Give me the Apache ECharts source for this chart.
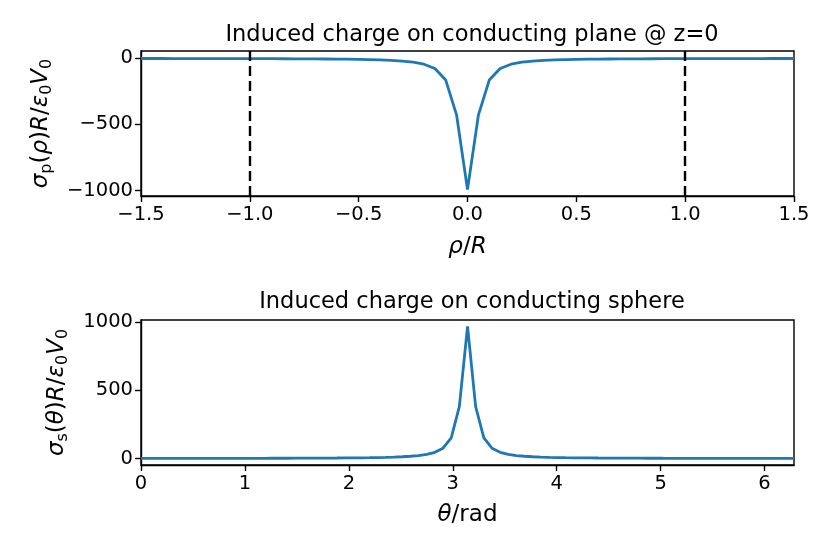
<!DOCTYPE html>
<html>
<head>
<meta charset="utf-8">
<script src="https://cdn.jsdelivr.net/npm/echarts@6/dist/echarts.min.js"></script>
<style>html,body{margin:0;padding:0;background:#fff;}#c{width:830px;height:554px;}</style>
</head>
<body>
<div id="c"></div>
<script>
// ---- data ----
const rhoValues = [-1.5,-1.45,-1.4,-1.35,-1.3,-1.25,-1.2,-1.15,-1.1,-1.05,-1.0,-0.95,-0.9,-0.85,-0.8,-0.75,-0.7,-0.65,-0.6,-0.55,-0.5,-0.45,-0.4,-0.35,-0.3,-0.25,-0.2,-0.15,-0.1,-0.05,0,0.05,0.1,0.15,0.2,0.25,0.3,0.35,0.4,0.45,0.5,0.55,0.6,0.65,0.7,0.75,0.8,0.85,0.9,0.95,1.0,1.05,1.1,1.15,1.2,1.25,1.3,1.35,1.4,1.45,1.5];
const sigmaPlane = [-0.85,-0.9,-0.95,-1.0,-1.1,-1.2,-1.3,-1.4,-1.55,-1.7,-1.9,-2.1,-2.3,-2.6,-2.9,-3.3,-3.8,-4.5,-5.2,-6.2,-7.5,-9,-11.5,-15,-20,-29,-44,-76,-164,-430,-994,-430,-164,-76,-44,-29,-20,-15,-11.5,-9,-7.5,-6.2,-5.2,-4.5,-3.8,-3.3,-2.9,-2.6,-2.3,-2.1,-1.9,-1.7,-1.55,-1.4,-1.3,-1.2,-1.1,-1.0,-0.95,-0.9,-0.85];
const planeVLines = [-1.0, 1.0];
const thetaValues = [0,0.079,0.157,0.236,0.314,0.393,0.471,0.550,0.628,0.707,0.785,0.864,0.942,1.021,1.100,1.178,1.257,1.335,1.414,1.492,1.571,1.649,1.728,1.806,1.885,1.963,2.042,2.121,2.199,2.278,2.356,2.435,2.513,2.592,2.670,2.749,2.827,2.906,2.985,3.063,3.142,3.220,3.299,3.377,3.456,3.534,3.613,3.691,3.770,3.848,3.927,4.006,4.084,4.163,4.241,4.320,4.398,4.477,4.555,4.634,4.712,4.791,4.869,4.948,5.027,5.105,5.184,5.262,5.341,5.419,5.498,5.576,5.655,5.733,5.812,5.890,5.969,6.048,6.126,6.205,6.283];
const sigmaSphere = [0.68,0.68,0.69,0.7,0.71,0.73,0.75,0.78,0.81,0.85,0.89,0.94,1.0,1.07,1.15,1.25,1.35,1.5,1.6,1.8,2.0,2.2,2.5,2.8,3.1,3.6,4.1,4.8,5.6,6.7,8,10,12.5,16,21,30,45,75,150,380,968,380,150,75,45,30,21,16,12.5,10,8,6.7,5.6,4.8,4.1,3.6,3.1,2.8,2.5,2.2,2.0,1.8,1.6,1.5,1.35,1.25,1.15,1.07,1.0,0.94,0.89,0.85,0.81,0.78,0.75,0.73,0.71,0.7,0.69,0.68,0.68];
const planeXTicks = [-1.5,-1.0,-0.5,0,0.5,1.0,1.5];
const planeYTicks = [-1000,-500,0];
const sphereXTicks = [0,1,2,3,4,5,6];
const sphereYTicks = [0,500,1000];
const titles = ['Induced charge on conducting plane @ z=0','Induced charge on conducting sphere'];

// ---- chart ----
const FONT = 'DejaVu Sans';
const fmtNum = (v, dec) => {
  let s = dec ? Number(v).toFixed(dec) : String(Math.round(v));
  return s.replace('-', '\u2212');
};
const mathRich = {
  i: {fontFamily: FONT, fontStyle: 'italic', fontSize: 23, color: '#000', lineHeight: 28},
  n: {fontFamily: FONT, fontSize: 23, color: '#000', lineHeight: 28},
  sub: {fontFamily: FONT, fontSize: 16, color: '#000', lineHeight: 16, padding: [12, 0, 0, 0]}
};
const axisCommon = {
  axisLine: {show: true, onZero: false, lineStyle: {color: '#000', width: 1.4}},
  axisTick: {show: true, length: 6, lineStyle: {color: '#000', width: 1.4}},
  splitLine: {show: false},
  axisLabel: {color: '#000', fontFamily: FONT, fontSize: 19.5}
};
const chart = echarts.init(document.getElementById('c'), null, {renderer: 'canvas'});
const option = {
  animation: false,
  backgroundColor: '#fff',
  title: [
    {text: titles[0], left: 467, top: 19, textAlign: 'center', textStyle: {fontFamily: FONT, fontSize: 22.5, fontWeight: 'normal', color: '#000'}},
    {text: titles[1], left: 467, top: 286, textAlign: 'center', textStyle: {fontFamily: FONT, fontSize: 22.5, fontWeight: 'normal', color: '#000'}}
  ],
  grid: [
    {left: 141, top: 51, width: 653, height: 145, show: true, borderColor: '#000', borderWidth: 1.4, backgroundColor: 'transparent'},
    {left: 141, top: 320, width: 653, height: 145, show: true, borderColor: '#000', borderWidth: 1.4, backgroundColor: 'transparent'}
  ],
  xAxis: [
    Object.assign({}, axisCommon, {
      type: 'value', gridIndex: 0, min: -1.5, max: 1.5,
      axisTick: Object.assign({}, axisCommon.axisTick, {customValues: planeXTicks}),
      axisLabel: Object.assign({}, axisCommon.axisLabel, {customValues: planeXTicks, margin: 9, formatter: v => fmtNum(v, 1)}),
      name: '{i|ρ}{n|/}{i|R}', nameLocation: 'middle', nameGap: 37,
      nameTextStyle: {rich: mathRich}
    }),
    Object.assign({}, axisCommon, {
      type: 'value', gridIndex: 1, min: 0, max: 6.2832,
      axisTick: Object.assign({}, axisCommon.axisTick, {customValues: sphereXTicks}),
      axisLabel: Object.assign({}, axisCommon.axisLabel, {customValues: sphereXTicks, margin: 9, formatter: v => fmtNum(v)}),
      name: '{i|θ}{n|/rad}', nameLocation: 'middle', nameGap: 36,
      nameTextStyle: {rich: mathRich}
    })
  ],
  yAxis: [
    Object.assign({}, axisCommon, {
      type: 'value', gridIndex: 0, min: -1042, max: 56,
      axisTick: Object.assign({}, axisCommon.axisTick, {customValues: planeYTicks}),
      axisLabel: Object.assign({}, axisCommon.axisLabel, {customValues: planeYTicks, margin: 8, formatter: v => fmtNum(v)}),
      name: '{i|σ}{sub|p}{n|(}{i|ρ}{n|)}{i|R}{n|/}{i|ε}{sub|0}{i|V}{sub|0}', nameLocation: 'middle', nameGap: 86, nameRotate: 90,
      nameTextStyle: {rich: mathRich}
    }),
    Object.assign({}, axisCommon, {
      type: 'value', gridIndex: 1, min: -48, max: 1014,
      axisTick: Object.assign({}, axisCommon.axisTick, {customValues: sphereYTicks}),
      axisLabel: Object.assign({}, axisCommon.axisLabel, {customValues: sphereYTicks, margin: 8, formatter: v => fmtNum(v)}),
      name: '{i|σ}{sub|s}{n|(}{i|θ}{n|)}{i|R}{n|/}{i|ε}{sub|0}{i|V}{sub|0}', nameLocation: 'middle', nameGap: 70, nameRotate: 90,
      nameTextStyle: {rich: mathRich}
    })
  ],
  series: [
    {
      type: 'line', xAxisIndex: 0, yAxisIndex: 0, showSymbol: false, symbol: 'none',
      data: rhoValues.map((x, k) => [x, sigmaPlane[k]]),
      lineStyle: {color: '#1f77b4', width: 2.8}, z: 3,
      markLine: {
        silent: true, symbol: 'none', label: {show: false},
        lineStyle: {color: '#000', type: [10, 5], width: 2.4},
        data: planeVLines.map(v => ({xAxis: v}))
      }
    },
    {
      type: 'line', xAxisIndex: 1, yAxisIndex: 1, showSymbol: false, symbol: 'none',
      data: thetaValues.map((x, k) => [x, sigmaSphere[k]]),
      lineStyle: {color: '#1f77b4', width: 2.8}, z: 3
    }
  ]
};
chart.setOption(option);
</script>
</body>
</html>
